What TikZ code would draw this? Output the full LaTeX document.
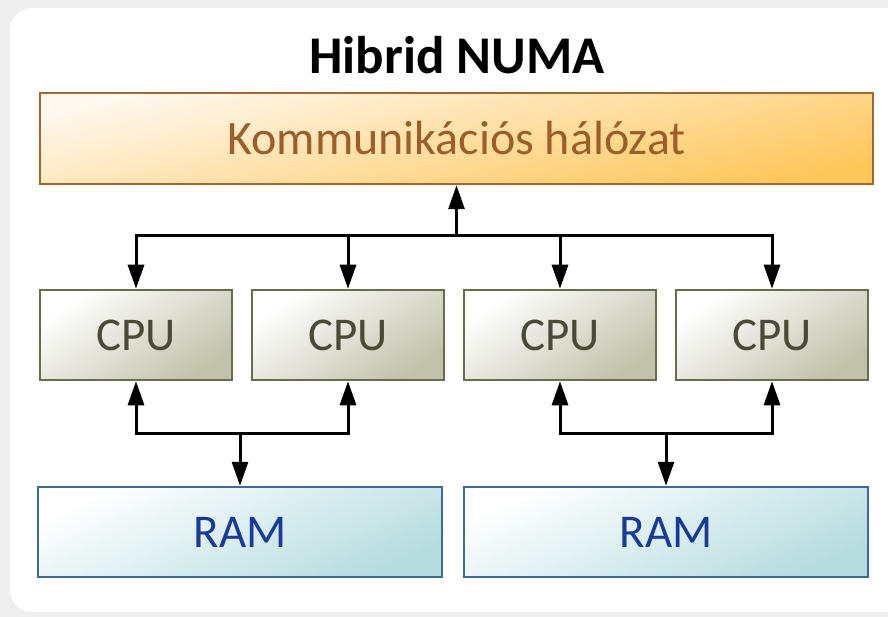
\documentclass[tikz,border=0pt]{standalone}
\usepackage{fontspec}
\setmainfont{Carlito}
\usetikzlibrary{arrows.meta}

\definecolor{pagegray}{HTML}{EFEFEF}
\definecolor{netedge}{HTML}{A0682E}
\definecolor{nettext}{HTML}{9A5F2A}
\definecolor{netlight}{HTML}{FFF8EE}
\definecolor{netdark}{HTML}{FFC65A}
\definecolor{cpuedge}{HTML}{6B6B4D}
\definecolor{cputext}{HTML}{4A4A36}
\definecolor{cpudark}{HTML}{C2C2AC}
\definecolor{ramedge}{HTML}{3C6A9A}
\definecolor{ramtext}{HTML}{1A3A9A}
\definecolor{ramdark}{HTML}{B6DCDF}

\tikzset{
  netbox/.style={draw=netedge, line width=2.5pt, minimum width=833pt, minimum height=91pt,
    top color=netlight, bottom color=netdark, shading angle=12,
    text=nettext, font=\fontsize{48}{52}\selectfont, inner sep=0pt},
  cpubox/.style={draw=cpuedge, line width=2.5pt, minimum width=192pt, minimum height=90pt,
    top color=white, bottom color=cpudark, shading angle=35,
    text=cputext, font=\fontsize{47}{50}\selectfont, inner sep=0pt},
  rambox/.style={draw=ramedge, line width=2.5pt, minimum width=404pt, minimum height=90pt,
    top color=white, bottom color=ramdark, shading angle=25,
    text=ramtext, font=\fontsize{47}{50}\selectfont, inner sep=0pt},
  bus/.style={line width=3pt, line cap=rect},
  arr/.style={line width=3pt, -{Triangle[length=24pt,width=16pt]}},
}

\begin{document}
\begin{tikzpicture}[x=1pt,y=-1pt]
\useasboundingbox (0,0) rectangle (888,617);
\fill[pagegray] (0,0) rectangle (888,617);
\fill[white, rounded corners=22pt] (10,8) rectangle (910,612);

\node[font=\bfseries\fontsize{53}{56}\selectfont] (title) at (457,55) {Hibrid NUMA};

\node[netbox] (net) at (456.5,138.5) {Kommunikációs hálózat};

\node[cpubox] (c1) at (136,335) {CPU};
\node[cpubox] (c2) at (348,335) {CPU};
\node[cpubox] (c3) at (560,335) {CPU};
\node[cpubox] (c4) at (772,335) {CPU};

\node[rambox] (r1) at (240,532) {RAM};
\node[rambox] (r2) at (666,532) {RAM};

% network bus
\coordinate (bl) at (c1.north |- 0,236);
\coordinate (br) at (c4.north |- 0,236);
\coordinate (bm) at (net.south |- 0,236);
\draw[bus] (bl) -- (br);
\draw[arr] (bm) -- (net.south);
\foreach \c in {c1,c2,c3,c4}
  \draw[arr] (\c.north |- 0,236) -- (\c.north);

% memory buses
\coordinate (m1) at (r1.north |- 0,433);
\coordinate (m2) at (r2.north |- 0,433);
\draw[bus] (c1.south |- 0,433) -- (c2.south |- 0,433);
\draw[bus] (c3.south |- 0,433) -- (c4.south |- 0,433);
\foreach \c in {c1,c2}
  \draw[arr] (\c.south |- 0,433) -- (\c.south);
\foreach \c in {c3,c4}
  \draw[arr] (\c.south |- 0,433) -- (\c.south);
\draw[arr] (m1) -- (r1.north);
\draw[arr] (m2) -- (r2.north);
\end{tikzpicture}
\end{document}
